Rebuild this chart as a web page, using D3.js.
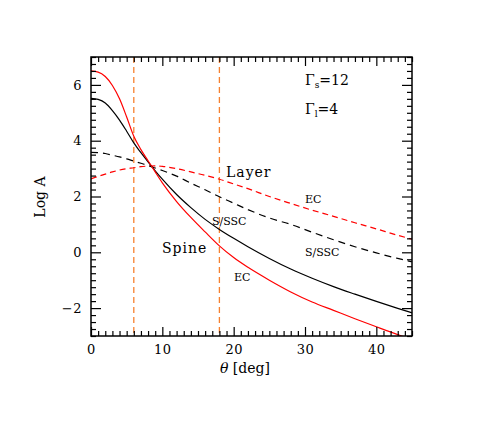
<!DOCTYPE html>
<html>
<head>
<meta charset="utf-8">
<script src="https://cdn.jsdelivr.net/npm/d3@7"></script>
<style>
  body { margin: 0; background: #fff; }
  svg { display: block; }
  text { font-family: "DejaVu Serif", "Liberation Serif", serif; fill: #000; }
  .axis path { display: none; }
  .axis line { stroke: #000; stroke-width: 1.2; }
  .axis text { font-size: 13px; letter-spacing: 0.5px; }
</style>
</head>
<body>
<svg width="491" height="436"></svg>
<script>
// theta sample points (deg)
const theta = [0, 1, 2, 3, 4, 5, 6, 7, 8, 9, 10, 12, 14, 16, 18, 20, 22, 25, 28, 31, 34, 37, 40, 43, 45];

// Spine, EC (red solid)
const spineEC = [6.50, 6.46, 6.30, 5.98, 5.50, 4.85, 4.16, 3.68, 3.28, 2.88, 2.49, 1.82, 1.25, 0.73, 0.23, -0.19, -0.54, -1.00, -1.42, -1.78, -2.08, -2.38, -2.67, -2.95, -3.12];
// Spine, S/SSC (black solid)
const spineSSC = [5.52, 5.48, 5.35, 5.08, 4.74, 4.34, 3.92, 3.57, 3.24, 2.92, 2.62, 2.07, 1.60, 1.18, 0.82, 0.50, 0.20, -0.22, -0.60, -0.93, -1.23, -1.50, -1.76, -2.01, -2.17];
// Layer, S/SSC (black dashed)
const layerSSC = [3.58, 3.57, 3.54, 3.48, 3.42, 3.35, 3.27, 3.19, 3.11, 3.02, 2.93, 2.73, 2.48, 2.24, 1.99, 1.76, 1.53, 1.23, 1.00, 0.72, 0.45, 0.20, -0.02, -0.22, -0.34];
// Layer, EC (red dashed)
const layerEC = [2.63, 2.72, 2.80, 2.88, 2.95, 3.00, 3.03, 3.07, 3.09, 3.10, 3.08, 3.00, 2.88, 2.76, 2.62, 2.45, 2.28, 2.00, 1.75, 1.51, 1.29, 1.06, 0.84, 0.61, 0.47];

// vertical reference angles
const markAngles = [6, 18];

const xTicks = [0, 10, 20, 30, 40];
const yTicks = [-2, 0, 2, 4, 6];

const svg = d3.select("svg");
const m = { left: 91, right: 412, top: 57, bottom: 336 };

const x = d3.scaleLinear().domain([0, 45]).range([m.left, m.right]);
const y = d3.scaleLinear().domain([-3, 7]).range([m.bottom, m.top]);

const defs = svg.append("defs");
defs.append("clipPath").attr("id", "plot")
  .append("rect")
  .attr("x", m.left).attr("y", m.top)
  .attr("width", m.right - m.left).attr("height", m.bottom - m.top);

const plot = svg.append("g").attr("clip-path", "url(#plot)");

// vertical dashed lines
plot.selectAll(".vline")
  .data(markAngles)
  .enter()
  .append("line")
  .attr("x1", d => x(d)).attr("x2", d => x(d))
  .attr("y1", m.top).attr("y2", m.bottom)
  .attr("stroke", "#f7812f")
  .attr("stroke-width", 1.3)
  .attr("stroke-dasharray", "6,4");

const line = d3.line()
  .x((d, i) => x(theta[i]))
  .y(d => y(d))
  .curve(d3.curveMonotoneX);

const series = [
  { vals: layerEC, color: "#ff0000", dash: "6,4" },
  { vals: layerSSC, color: "#000", dash: "7,5" },
  { vals: spineSSC, color: "#000", dash: null },
  { vals: spineEC, color: "#ff0000", dash: null }
];

series.forEach(s => {
  plot.append("path")
    .attr("d", line(s.vals))
    .attr("fill", "none")
    .attr("stroke", s.color)
    .attr("stroke-width", 1.2)
    .attr("stroke-dasharray", s.dash);
});

// axes: major + minor ticks on all four sides, pointing inward
function addAxis(axisFn, scale, translate, major, minor, majLen, minLen, labels) {
  svg.append("g")
    .attr("class", "axis")
    .attr("transform", translate)
    .call(axisFn(scale).tickValues(minor).tickSize(-minLen).tickFormat(""));
  svg.append("g")
    .attr("class", "axis")
    .attr("transform", translate)
    .call(axisFn(scale).tickValues(major).tickSize(-majLen)
      .tickPadding(labels ? 9 : 0)
      .tickFormat(labels ? d3.format("d") : ""));
}

const xMinor = d3.range(0, 46, 1).filter(d => d % 10 !== 0);
const yMinor = d3.range(-3, 7.01, 0.25).filter(d => Math.abs(d % 2) > 1e-6);

addAxis(d3.axisBottom, x, `translate(0,${m.bottom})`, xTicks, xMinor, 9, 5, true);
addAxis(d3.axisTop, x, `translate(0,${m.top})`, xTicks, xMinor, 9, 5, false);
addAxis(d3.axisLeft, y, `translate(${m.left},0)`, yTicks, yMinor, 10, 5, true);
addAxis(d3.axisRight, y, `translate(${m.right},0)`, yTicks, yMinor, 10, 5, false);

// frame
svg.append("rect")
  .attr("x", m.left).attr("y", m.top)
  .attr("width", m.right - m.left).attr("height", m.bottom - m.top)
  .attr("fill", "none")
  .attr("stroke", "#000")
  .attr("stroke-width", 1.5);

// axis titles
svg.append("text")
  .attr("x", 245).attr("y", 373)
  .attr("text-anchor", "middle")
  .style("font-size", "14px")
  .html('<tspan font-style="italic">θ</tspan> [deg]');

svg.append("text")
  .attr("transform", "translate(45,197) rotate(-90)")
  .attr("text-anchor", "middle")
  .style("font-size", "14px")
  .text("Log A");

// annotations
svg.append("text")
  .attr("x", 305).attr("y", 85)
  .style("font-size", "14px")
  .html('Γ<tspan dy="3" font-size="9px">s</tspan><tspan dy="-3">=12</tspan>');
svg.append("text")
  .attr("x", 305).attr("y", 114)
  .style("font-size", "14px")
  .html('Γ<tspan dy="3" font-size="9px">l</tspan><tspan dy="-3">=4</tspan>');

svg.append("text").attr("x", 226).attr("y", 177).style("font-size", "14px").style("letter-spacing", "1px").text("Layer");
svg.append("text").attr("x", 162).attr("y", 253).style("font-size", "14px").style("letter-spacing", "1px").text("Spine");

svg.append("text").attr("x", 212).attr("y", 225).style("font-size", "11px").text("S/SSC");
svg.append("text").attr("x", 305).attr("y", 256).style("font-size", "11px").text("S/SSC");
svg.append("text").attr("x", 234).attr("y", 281).style("font-size", "11px").text("EC");
svg.append("text").attr("x", 305).attr("y", 203).style("font-size", "11px").text("EC");
</script>
</body>
</html>
